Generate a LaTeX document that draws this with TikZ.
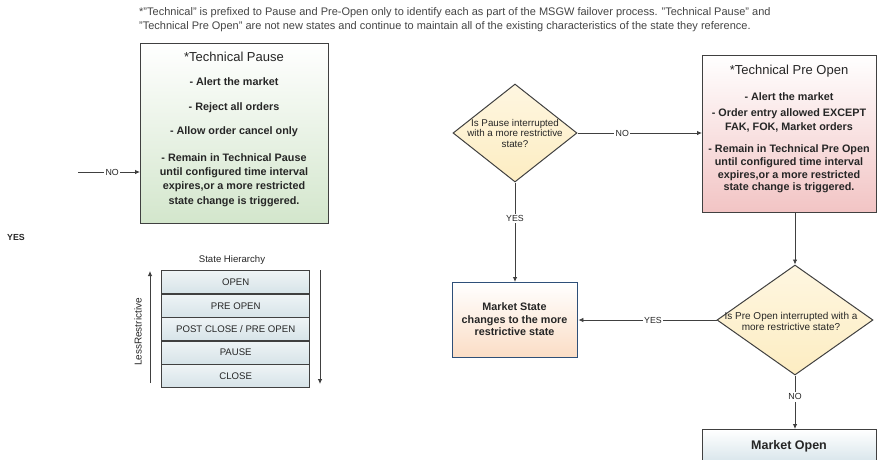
\documentclass[tikz,border=0pt]{standalone}
\usepackage{fontspec}
\setmainfont{Liberation Sans}
\usetikzlibrary{shapes.geometric,arrows.meta}
\definecolor{lineg}{HTML}{404040}
\definecolor{txt}{HTML}{262626}
\definecolor{notec}{HTML}{444444}
\definecolor{greenb}{HTML}{D3E6CC}
\definecolor{redb}{HTML}{F2C4C4}
\definecolor{orangeb}{HTML}{FBDDC5}
\definecolor{blueb}{HTML}{CFDFE6}
\definecolor{rowb}{HTML}{D6E3E8}
\definecolor{yel}{HTML}{FDEDC2}
\definecolor{navy}{HTML}{2E4F78}
\tikzset{
  rbox/.style={draw=lineg, line width=1.4pt, anchor=north west, inner sep=0pt},
  dia/.style={diamond, draw=lineg, line width=1pt, top color=yel!50, bottom color=yel, inner sep=0pt},
  diatxt/.style={align=center, text=txt, inner sep=0pt, font=\fontsize{9.8}{10.5}\selectfont},
  lbl/.style={text=txt, font=\fontsize{10.8}{12}\bfseries\selectfont, align=center},
  ttl/.style={text=txt, font=\fontsize{13}{15}\selectfont},
  elbl/.style={fill=white, inner sep=1.5pt, text=txt, font=\fontsize{8.8}{10}\selectfont},
  conn/.style={draw=lineg, line width=0.8pt, -{Latex[length=5pt,width=4.5pt]}},
  row/.style={rbox, minimum width=148pt, minimum height=23.4pt, top color=rowb!40, bottom color=rowb, text=txt, font=\fontsize{9.6}{11}\selectfont},
}
\begin{document}
\begin{tikzpicture}[x=1pt,y=-1pt]
\useasboundingbox (0,0) rectangle (878,459);

% note
\node[anchor=west, text=notec, font=\fontsize{11}{12}\selectfont, inner sep=0pt] (note1) at (139,13) {*"Technical" is prefixed to Pause and Pre-Open only to identify each as part of the MSGW failover process. "Technical Pause" and};
\node[anchor=west, text=notec, font=\fontsize{11}{12}\selectfont, inner sep=0pt] (note2) at (139,27) {"Technical Pre Open" are not new states and continue to maintain all of the existing characteristics of the state they reference.};

% Technical Pause box
\node[rbox, minimum width=188pt, minimum height=180pt, top color=white, bottom color=greenb] (pause) at (140,43) {};
\node[ttl] (pt) at (234,57) {*Technical Pause};
\node[lbl] (p1) at (234,82) {- Alert the market};
\node[lbl] (p2) at (234,108) {- Reject all orders};
\node[lbl] (p3) at (234,132) {- Allow order cancel only};
\node[lbl, font=\fontsize{10.8}{14.4}\bfseries\selectfont] (p4) at (234,180) {- Remain in Technical Pause\\until configured time interval\\expires,or a more restricted\\state change is triggered.};

\coordinate (nofrom) at (78,172);
\draw[conn] (nofrom) -- node[elbl, pos=0.55] {NO} (nofrom -| pause.west);

\node[text=txt, font=\fontsize{8.8}{10}\bfseries\selectfont] (yesleft) at (16,237) {YES};

% Technical Pre Open box
\node[rbox, minimum width=174pt, minimum height=157pt, top color=white, bottom color=redb] (preopen) at (702,55) {};
\node[ttl] (ot) at (789,71) {*Technical Pre Open};
\node[lbl] (o1) at (789,97) {- Alert the market};
\node[lbl, font=\fontsize{10.8}{14}\bfseries\selectfont] (o2) at (789,120) {- Order entry allowed EXCEPT\\FAK, FOK, Market orders};
\node[lbl, font=\fontsize{10.8}{12.6}\bfseries\selectfont] (o3) at (789,169) {- Remain in Technical Pre Open\\until configured time interval\\expires,or a more restricted\\state change is triggered.};

% diamonds
\node[dia, minimum width=124pt, minimum height=98pt] (d1) at (515,133) {};
\node[diatxt] (d1t) at (d1.center) {Is Pause interrupted\\with a more restrictive\\state?};
\node[dia, minimum width=156pt, minimum height=110pt] (d2) at (795,320) {};
\node[diatxt, font=\fontsize{10}{11}\selectfont] (d2t) at (791,321) {Is Pre Open interrupted with a\\more restrictive state?};

% Market State box
\node[rbox, draw=navy, minimum width=125pt, minimum height=75pt, top color=white, bottom color=orangeb] (mstate) at (452,282) {};
\node[lbl, font=\fontsize{10.8}{12.5}\bfseries\selectfont] (mst) at (514.5,319.5) {Market State\\changes to the more\\restrictive state};

% Market Open box
\node[rbox, minimum width=174pt, minimum height=40pt, top color=white, bottom color=blueb] (mopen) at (702,429) {};
\node[ttl, font=\fontsize{12.5}{14}\bfseries\selectfont] (mot) at (789,446) {Market Open};

% connectors
\draw[conn] (d1.east) -- node[elbl, pos=0.36] {NO} (d1.east -| preopen.west);
\draw[conn] (d1.south) -- node[elbl, pos=0.36] {YES} (d1.south |- mstate.north);
\draw[conn] (d2.north |- preopen.south) -- (d2.north);
\draw[conn] (d2.west) -- node[elbl, pos=0.46] {YES} (d2.west -| mstate.east);
\draw[conn] (d2.south) -- node[elbl, pos=0.4] {NO} (d2.south |- mopen.north);

% State hierarchy
\node[text=txt, font=\fontsize{9.6}{11}\selectfont] (sh) at (232,260) {State Hierarchy};
\node[row] (r1) at (161,270) {OPEN};
\node[row] (r2) at (161,293.4) {PRE OPEN};
\node[row] (r3) at (161,316.8) {POST CLOSE / PRE OPEN};
\node[row] (r4) at (161,340.2) {PAUSE};
\node[row] (r5) at (161,363.6) {CLOSE};
\coordinate (la) at (150,383);
\coordinate (lb) at (150,271);
\coordinate (ra) at (320,270);
\coordinate (rb) at (320,384);
\draw[conn] (la) -- (lb);
\draw[conn] (ra) -- (rb);
\node[rotate=90, text=txt, font=\fontsize{10}{11}\selectfont] (lr) at (138,332) {LessRestrictive};
\end{tikzpicture}
\end{document}
